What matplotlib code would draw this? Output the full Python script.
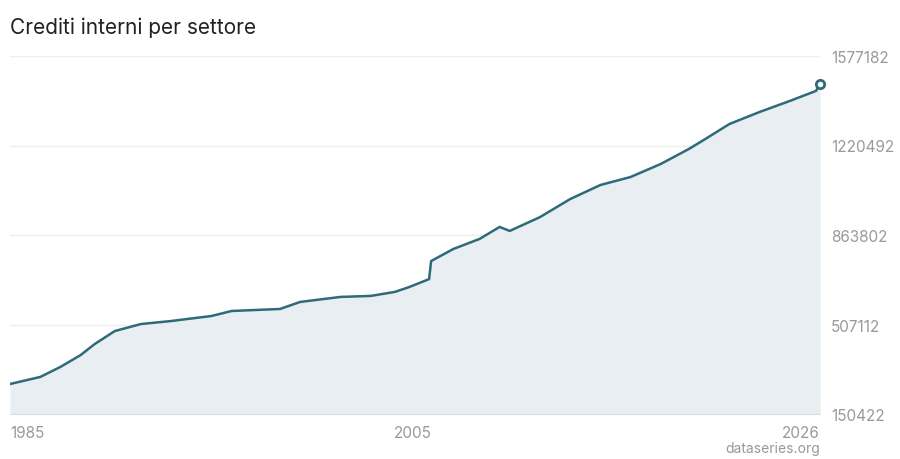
import matplotlib
matplotlib.use("Agg")
import matplotlib.pyplot as plt
plt.rcParams['font.family'] = ['Inter', 'DejaVu Sans']

years = [1985.0, 1986.5, 1987.5, 1988.5, 1989.2, 1990.2, 1991.5, 1993.0, 1995.0, 1996.0,
         1998.4, 1999.4, 2001.4, 2002.9, 2004.1, 2004.8, 2005.8, 2005.9, 2007.0, 2008.3,
         2009.3, 2009.8, 2011.3, 2012.8, 2014.3, 2015.8, 2017.3, 2018.7, 2019.5, 2020.7,
         2022.2, 2023.7, 2025.0, 2025.2]
values = [270000, 298000, 338000, 385000, 429000, 481000, 509000, 521000, 541000, 561000,
          569000, 597000, 617000, 621000, 637000, 656000, 688000, 760000, 808000, 848000,
          896000, 880000, 935000, 1007000, 1063000, 1095000, 1147000, 1207000, 1246000, 1306000,
          1354000, 1398000, 1438000, 1466000]
yticks = [150422, 507112, 863802, 1220492, 1577182]
xtick_pos = [1985, 2005, 2025.2]
xtick_labels = ["1985", "2005", "2026"]

fig = plt.figure(figsize=(9, 4.6), dpi=100)
ax = fig.add_axes([10/900, 45/460, 810/900, 358/460])
line_c = "#2e6b78"
ax.fill_between(years, values, 150422, color="#e8eef1", lw=0)
ax.plot(years, values, color=line_c, lw=1.8)
ax.plot([years[-1]], [values[-1]], "o", ms=6, mfc="white", mec=line_c, mew=2, clip_on=False)
ax.set_xlim(1985, 2025.2)
ax.set_ylim(150422, 1577182)
ax.set_yticks(yticks)
ax.yaxis.tick_right()
ax.set_yticklabels([str(v) for v in yticks], color="#999999", fontsize=11)
ax.set_xticks(xtick_pos)
ax.set_xticklabels(xtick_labels, color="#999999", fontsize=11)
for lbl, ha in zip(ax.get_xticklabels(), ["left", "center", "right"]):
    lbl.set_ha(ha)
ax.tick_params(length=0, pad=8)
ax.grid(axis="y", color="#eeeeee", lw=1)
ax.set_axisbelow(True)
for s in ax.spines.values():
    s.set_visible(False)
ax.spines["bottom"].set_visible(True)
ax.spines["bottom"].set_color("#dddddd")
fig.text(10/900, 1 - 28/460, "Crediti interni per settore", fontsize=15, color="#222222", va="center")
fig.text(820/900, 1 - 449/460, "dataseries.org", fontsize=10, color="#999999", ha="right", va="center")
fig.savefig("out.png", dpi=100)
